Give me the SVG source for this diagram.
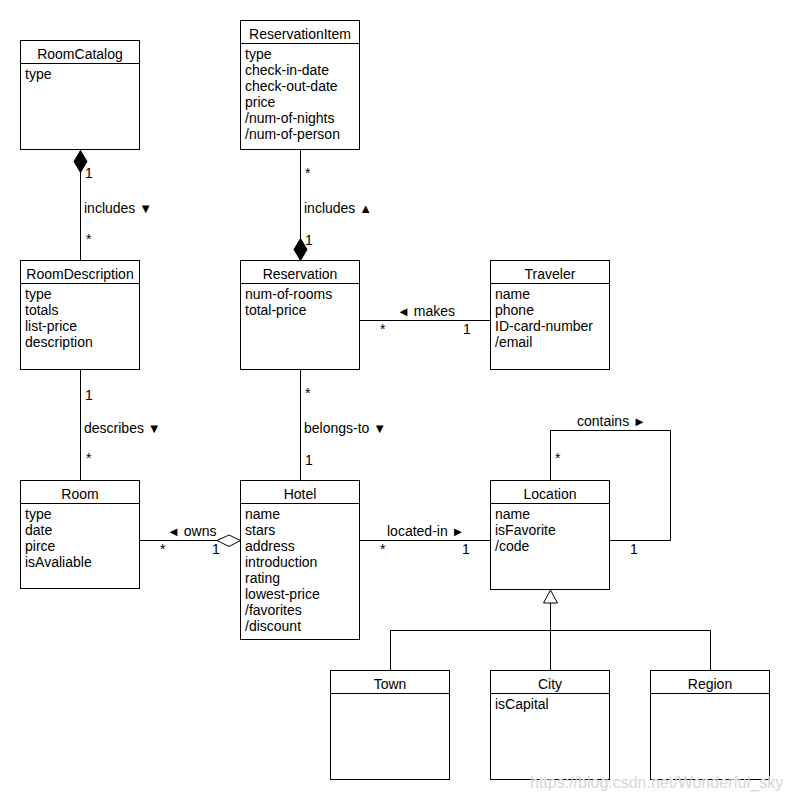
<svg xmlns="http://www.w3.org/2000/svg" width="790" height="800" viewBox="0 0 790 800">
<style>
.box{fill:#fff;stroke:#000;stroke-width:1}
.ln{fill:none;stroke:#000;stroke-width:1}
.fd{fill:#000;stroke:#000;stroke-width:1}
.od{fill:#fff;stroke:#000;stroke-width:1}
text{font-family:"Liberation Sans",Arial,"DejaVu Sans",sans-serif;font-size:14px;fill:#000}
.t{text-anchor:middle}
.tri{font-size:13px}
.wm{font-size:16px;fill:#d6d6d6}
</style>
<rect width="790" height="800" fill="#fff"/>
<g id="connectors">
  <line class="ln" x1="80.5" y1="172" x2="80.5" y2="260.5"/>
  <polygon class="fd" points="80.5,150.5 87,161.5 80.5,172.5 74,161.5"/>
  <line class="ln" x1="300.5" y1="149.5" x2="300.5" y2="239"/>
  <polygon class="fd" points="300.5,238.5 307,249.5 300.5,260.5 294,249.5"/>
  <line class="ln" x1="80.5" y1="369.5" x2="80.5" y2="480.5"/>
  <line class="ln" x1="300.5" y1="369.5" x2="300.5" y2="480.5"/>
  <line class="ln" x1="359.5" y1="320.5" x2="490.5" y2="320.5"/>
  <line class="ln" x1="139.5" y1="540.5" x2="217" y2="540.5"/>
  <polygon class="od" points="217,540.5 229,535 240.5,540.5 229,546.5"/>
  <line class="ln" x1="359.5" y1="540.5" x2="490.5" y2="540.5"/>
  <path class="ln" d="M550.5,480.5 V430.5 H670.5 V540.5 H609.5"/>
  <polygon class="od" points="550.5,590 557.5,603 543.5,603"/>
  <line class="ln" x1="550.5" y1="603" x2="550.5" y2="670.5"/>
  <path class="ln" d="M390.5,670.5 V630.5 H710.5 V670.5"/>
  <text x="85" y="178">1</text>
  <text x="84" y="213">includes <tspan class="tri">▼</tspan></text>
  <text x="86" y="244">*</text>
  <text x="305" y="178">*</text>
  <text x="304" y="213">includes <tspan class="tri">▲</tspan></text>
  <text x="305" y="245">1</text>
  <text x="85" y="400">1</text>
  <text x="84" y="433">describes <tspan class="tri">▼</tspan></text>
  <text x="86" y="463">*</text>
  <text x="305" y="398">*</text>
  <text x="304" y="433">belongs-to <tspan class="tri">▼</tspan></text>
  <text x="305" y="465">1</text>
  <text x="397" y="316"><tspan class="tri">◄</tspan> makes</text>
  <text x="380" y="334">*</text>
  <text x="463" y="334">1</text>
  <text x="167" y="536"><tspan class="tri">◄</tspan> owns</text>
  <text x="160" y="554">*</text>
  <text x="212" y="554">1</text>
  <text x="387" y="536">located-in <tspan class="tri">►</tspan></text>
  <text x="380" y="554">*</text>
  <text x="462" y="554">1</text>
  <text x="577" y="426">contains <tspan class="tri">►</tspan></text>
  <text x="555" y="463">*</text>
  <text x="630" y="554">1</text>
</g>
<g id="RoomCatalog">
  <rect class="box" x="20.5" y="40.5" width="119" height="109"/>
  <line class="ln" x1="20.5" y1="63.5" x2="139.5" y2="63.5"/>
  <text class="t" x="80" y="58.5">RoomCatalog</text>
  <text x="25" y="78.5">type</text>
</g>
<g id="ReservationItem">
  <rect class="box" x="240.5" y="20.5" width="119" height="129"/>
  <line class="ln" x1="240.5" y1="43.5" x2="359.5" y2="43.5"/>
  <text class="t" x="300" y="38.5">ReservationItem</text>
  <text x="245" y="58.5">type</text>
  <text x="245" y="74.5">check-in-date</text>
  <text x="245" y="90.5">check-out-date</text>
  <text x="245" y="106.5">price</text>
  <text x="245" y="122.5">/num-of-nights</text>
  <text x="245" y="138.5">/num-of-person</text>
</g>
<g id="RoomDescription">
  <rect class="box" x="20.5" y="260.5" width="119" height="109"/>
  <line class="ln" x1="20.5" y1="283.5" x2="139.5" y2="283.5"/>
  <text class="t" x="80" y="278.5">RoomDescription</text>
  <text x="25" y="298.5">type</text>
  <text x="25" y="314.5">totals</text>
  <text x="25" y="330.5">list-price</text>
  <text x="25" y="346.5">description</text>
</g>
<g id="Reservation">
  <rect class="box" x="240.5" y="260.5" width="119" height="109"/>
  <line class="ln" x1="240.5" y1="283.5" x2="359.5" y2="283.5"/>
  <text class="t" x="300" y="278.5">Reservation</text>
  <text x="245" y="298.5">num-of-rooms</text>
  <text x="245" y="314.5">total-price</text>
</g>
<g id="Traveler">
  <rect class="box" x="490.5" y="260.5" width="119" height="109"/>
  <line class="ln" x1="490.5" y1="283.5" x2="609.5" y2="283.5"/>
  <text class="t" x="550" y="278.5">Traveler</text>
  <text x="495" y="298.5">name</text>
  <text x="495" y="314.5">phone</text>
  <text x="495" y="330.5">ID-card-number</text>
  <text x="495" y="346.5">/email</text>
</g>
<g id="Room">
  <rect class="box" x="20.5" y="480.5" width="119" height="108"/>
  <line class="ln" x1="20.5" y1="503.5" x2="139.5" y2="503.5"/>
  <text class="t" x="80" y="498.5">Room</text>
  <text x="25" y="518.5">type</text>
  <text x="25" y="534.5">date</text>
  <text x="25" y="550.5">pirce</text>
  <text x="25" y="566.5">isAvaliable</text>
</g>
<g id="Hotel">
  <rect class="box" x="240.5" y="480.5" width="119" height="159"/>
  <line class="ln" x1="240.5" y1="503.5" x2="359.5" y2="503.5"/>
  <text class="t" x="300" y="498.5">Hotel</text>
  <text x="245" y="518.5">name</text>
  <text x="245" y="534.5">stars</text>
  <text x="245" y="550.5">address</text>
  <text x="245" y="566.5">introduction</text>
  <text x="245" y="582.5">rating</text>
  <text x="245" y="598.5">lowest-price</text>
  <text x="245" y="614.5">/favorites</text>
  <text x="245" y="630.5">/discount</text>
</g>
<g id="Location">
  <rect class="box" x="490.5" y="480.5" width="119" height="109"/>
  <line class="ln" x1="490.5" y1="503.5" x2="609.5" y2="503.5"/>
  <text class="t" x="550" y="498.5">Location</text>
  <text x="495" y="518.5">name</text>
  <text x="495" y="534.5">isFavorite</text>
  <text x="495" y="550.5">/code</text>
</g>
<g id="Town">
  <rect class="box" x="330.5" y="670.5" width="119" height="109"/>
  <line class="ln" x1="330.5" y1="693.5" x2="449.5" y2="693.5"/>
  <text class="t" x="390" y="688.5">Town</text>
</g>
<g id="City">
  <rect class="box" x="490.5" y="670.5" width="119" height="109"/>
  <line class="ln" x1="490.5" y1="693.5" x2="609.5" y2="693.5"/>
  <text class="t" x="550" y="688.5">City</text>
  <text x="495" y="708.5">isCapital</text>
</g>
<g id="Region">
  <rect class="box" x="650.5" y="670.5" width="119" height="109"/>
  <line class="ln" x1="650.5" y1="693.5" x2="769.5" y2="693.5"/>
  <text class="t" x="710" y="688.5">Region</text>
</g>
<text class="wm" x="530" y="788">https://blog.csdn.net/Wonderful_sky</text>
</svg>
